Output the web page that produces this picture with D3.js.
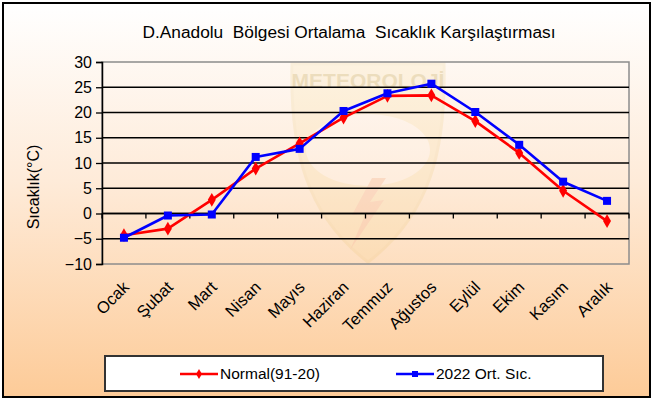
<!DOCTYPE html>
<html>
<head>
<meta charset="utf-8">
<script src="https://cdn.jsdelivr.net/npm/d3@7"></script>
<style>
  html, body { margin: 0; padding: 0; background: #ffffff; }
  svg { display: block; font-family: "Liberation Sans", Arial, sans-serif; }
</style>
</head>
<body>
<svg id="chart" width="654" height="401"></svg>
<script>
const months = ["Ocak", "Şubat", "Mart", "Nisan", "Mayıs", "Haziran", "Temmuz", "Ağustos", "Eylül", "Ekim", "Kasım", "Aralık"];
const normalValues = [-4.3, -3.0, 2.7, 8.9, 13.9, 19.0, 23.3, 23.4, 18.3, 12.0, 4.5, -1.5];
const values2022 = [-4.8, -0.4, -0.2, 11.2, 12.8, 20.3, 23.8, 25.7, 20.1, 13.6, 6.3, 2.5];
const yTicks = [-10, -5, 0, 5, 10, 15, 20, 25, 30];
const seriesNames = ["Normal(91-20)", "2022 Ort. Sıc."];
const titleText = "D.Anadolu  Bölgesi Ortalama  Sıcaklık Karşılaştırması";
const yTitle = "Sıcaklık(°C)";

const svg = d3.select("#chart");
const plot = { left: 102, right: 629, top: 62, bottom: 264 };

const defs = svg.append("defs");
const grad = defs.append("linearGradient").attr("id", "bg").attr("x1", 0).attr("y1", 0).attr("x2", 0).attr("y2", 1);
grad.append("stop").attr("offset", "0%").attr("stop-color", "#ffffff");
grad.append("stop").attr("offset", "45%").attr("stop-color", "#feebd9");
grad.append("stop").attr("offset", "100%").attr("stop-color", "#fdcb98");

// outer chart area
svg.append("rect").attr("x", 3).attr("y", 3).attr("width", 647).attr("height", 394)
  .attr("fill", "url(#bg)").attr("stroke", "#000").attr("stroke-width", 2);

const x = d3.scaleBand().domain(months).range([plot.left, plot.right]).paddingInner(0).paddingOuter(0);
const y = d3.scaleLinear().domain([-10, 30]).range([plot.bottom, plot.top]);

// faint watermark logo
const wm = svg.append("g").attr("opacity", 0.13);
const shield = d3.path();
shield.moveTo(292, 64); shield.lineTo(444, 64);
shield.bezierCurveTo(446, 150, 430, 215, 368, 262);
shield.bezierCurveTo(306, 215, 290, 150, 292, 64);
shield.closePath();
wm.append("path").attr("d", shield.toString()).attr("fill", "#f0d070").attr("stroke", "#e0b84a").attr("stroke-width", 3);
wm.append("ellipse").attr("cx", 368).attr("cy", 150).attr("rx", 62).attr("ry", 36).attr("fill", "#ffffff");
wm.append("path").attr("d", "M372 178 L352 215 L366 213 L350 250 L384 200 L370 202 L386 178 Z").attr("fill", "#e8703a");
svg.append("text").attr("x", 368).attr("y", 88).attr("text-anchor", "middle")
  .attr("font-size", 21).attr("font-weight", "bold").attr("fill", "#c8b070").attr("opacity", 0.3).text("METEOROLOJİ");

// plot border (grey)
svg.append("rect").attr("x", plot.left).attr("y", plot.top)
  .attr("width", plot.right - plot.left).attr("height", plot.bottom - plot.top)
  .attr("fill", "none").attr("stroke", "#8c8c8c").attr("stroke-width", 1.5);

// gridlines
svg.append("g").selectAll("line").data(yTicks.filter(d => d > -10 && d < 30)).join("line")
  .attr("x1", plot.left).attr("x2", plot.right)
  .attr("y1", d => y(d)).attr("y2", d => y(d))
  .attr("stroke", "#000").attr("stroke-width", 1.3);

// y axis
const yAxis = svg.append("g").attr("transform", `translate(${plot.left},0)`)
  .call(d3.axisLeft(y).tickValues(yTicks).tickSize(6).tickPadding(4).tickFormat(d3.format("d")));
yAxis.select(".domain").attr("stroke", "#000").attr("stroke-width", 1.5);
yAxis.selectAll(".tick line").attr("stroke", "#000").attr("stroke-width", 1.3);
yAxis.selectAll(".tick text").attr("font-size", 16).attr("fill", "#000")
  .attr("font-family", "'Liberation Sans', Arial, sans-serif");

// x axis at zero
const xAxisG = svg.append("g").attr("transform", `translate(0,${y(0)})`);
xAxisG.append("line").attr("x1", plot.left).attr("x2", plot.right).attr("y1", 0).attr("y2", 0)
  .attr("stroke", "#000").attr("stroke-width", 1.5);
const bounds = d3.range(months.length + 1).map(i => i < months.length ? x(months[i]) : plot.right);
xAxisG.selectAll("line.tk").data(bounds).join("line").attr("class", "tk")
  .attr("x1", d => d).attr("x2", d => d).attr("y1", 0).attr("y2", 5)
  .attr("stroke", "#000").attr("stroke-width", 1.3);

// x labels (rotated)
svg.append("g").selectAll("text").data(months).join("text")
  .attr("transform", d => `translate(${x(d) + x.bandwidth() / 2 - 2},${plot.bottom + 16}) rotate(-45)`)
  .attr("text-anchor", "end").attr("dy", "0.7em")
  .attr("font-size", 16.5).attr("fill", "#000").text(d => d);

// lines
const line = d3.line().x((d, i) => x(months[i]) + x.bandwidth() / 2).y(d => y(d));
svg.append("path").datum(normalValues).attr("d", line).attr("fill", "none")
  .attr("stroke", "#ff0000").attr("stroke-width", 2.6).attr("stroke-linejoin", "round");
svg.append("path").datum(values2022).attr("d", line).attr("fill", "none")
  .attr("stroke", "#0000ff").attr("stroke-width", 2.6).attr("stroke-linejoin", "round");

svg.append("g").selectAll("path").data(normalValues).join("path")
  .attr("transform", (d, i) => `translate(${x(months[i]) + x.bandwidth() / 2},${y(d)})`)
  .attr("d", d3.symbol().type(d3.symbolDiamond).size(55)).attr("fill", "#ff0000");
svg.append("g").selectAll("rect").data(values2022).join("rect")
  .attr("x", (d, i) => x(months[i]) + x.bandwidth() / 2 - 4).attr("y", d => y(d) - 4)
  .attr("width", 8).attr("height", 8).attr("fill", "#0000ff");

// title
svg.append("text").attr("x", 349).attr("y", 38).attr("text-anchor", "middle")
  .attr("font-size", 17.3).attr("fill", "#000").attr("xml:space", "preserve").style("white-space", "pre").text(titleText);

// y title
svg.append("text").attr("transform", "translate(39,187) rotate(-90)").attr("text-anchor", "middle")
  .attr("font-size", 16).attr("fill", "#000").text(yTitle);

// legend
const lg = svg.append("g");
lg.append("rect").attr("x", 105).attr("y", 356).attr("width", 498).attr("height", 35)
  .attr("fill", "#fff").attr("stroke", "#333").attr("stroke-width", 2);
const legendItems = [
  { name: seriesNames[0], color: "#ff0000", x0: 180, type: "diamond" },
  { name: seriesNames[1], color: "#0000ff", x0: 396, type: "square" }
];
legendItems.forEach(it => {
  lg.append("line").attr("x1", it.x0).attr("x2", it.x0 + 38).attr("y1", 374).attr("y2", 374)
    .attr("stroke", it.color).attr("stroke-width", 2.6);
  if (it.type === "diamond") {
    lg.append("path").attr("transform", `translate(${it.x0 + 19},374)`)
      .attr("d", d3.symbol().type(d3.symbolDiamond).size(30)).attr("fill", it.color);
  } else {
    lg.append("rect").attr("x", it.x0 + 16).attr("y", 371).attr("width", 6).attr("height", 6).attr("fill", it.color);
  }
  lg.append("text").attr("x", it.x0 + 40).attr("y", 374).attr("dy", "0.35em")
    .attr("font-size", 15.5).attr("fill", "#000").text(it.name);
});
</script>
</body>
</html>
